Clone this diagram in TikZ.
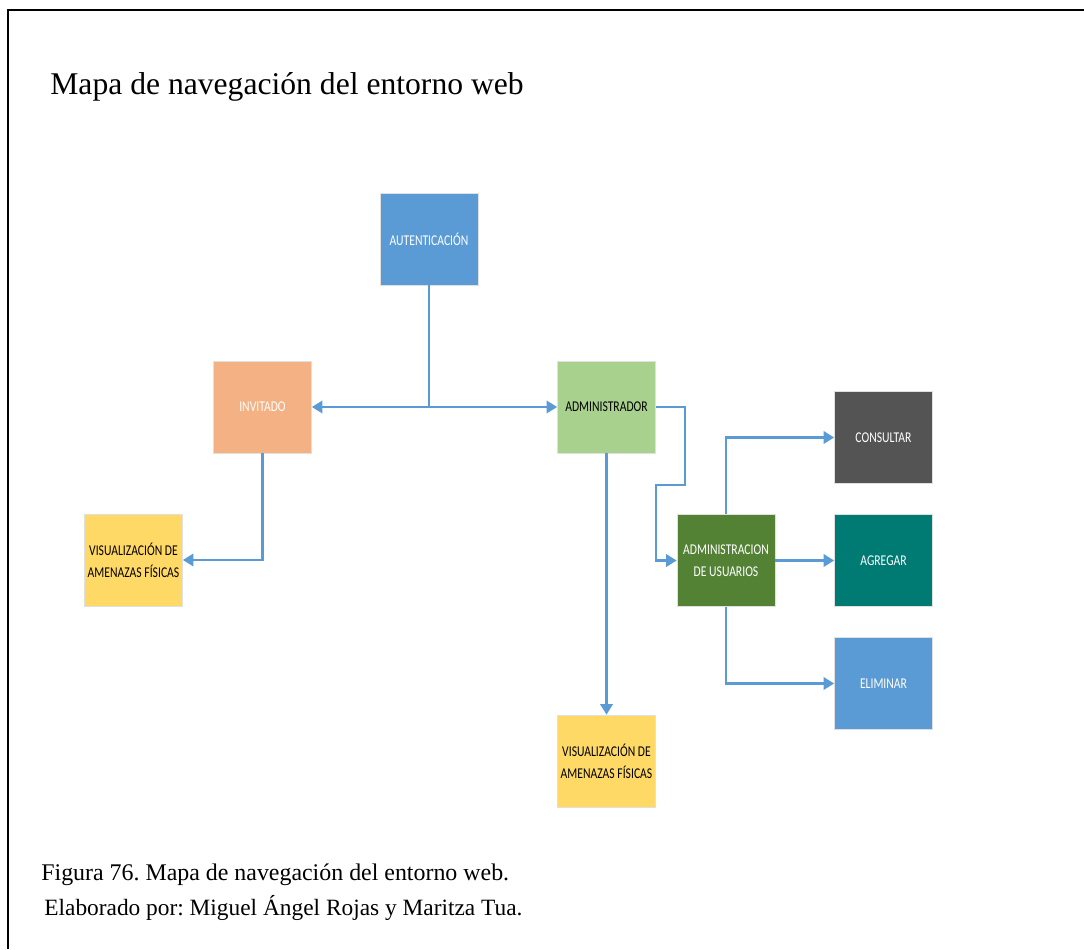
\documentclass[tikz,border=0pt]{standalone}
\usepackage{fontspec}
\setmainfont{Liberation Serif}
\newfontfamily\boxfont[FakeStretch=0.78]{Carlito}
\usepackage{xcolor}
\usetikzlibrary{arrows.meta}
\definecolor{lineblue}{HTML}{5B9BD5}
\definecolor{authblue}{HTML}{5B9BD5}
\definecolor{guestorange}{HTML}{F4B183}
\definecolor{admingreen}{HTML}{A9D18E}
\definecolor{viewyellow}{HTML}{FFD966}
\definecolor{usersgreen}{HTML}{548235}
\definecolor{querygray}{HTML}{545454}
\definecolor{addteal}{HTML}{007B74}
\tikzstyle{none}=[inner sep=0pt]
\tikzstyle{box}=[draw=black!12, line width=0.4pt, minimum width=1.96cm, minimum height=1.84cm, inner sep=1pt, align=center, font=\boxfont\fontsize{8.5}{12.5}\selectfont]
\tikzstyle{simple}=[-, draw=lineblue, line width=1.4pt]
\tikzstyle{arrow}=[simple, -{Triangle[length=6pt,width=7pt]}]

\begin{document}
\frenchspacing
\begin{tikzpicture}[x=0.02cm, y=-0.02cm]
  \useasboundingbox (0,0) rectangle (1084,949);
  \draw [line width=1.7pt] (8,949) -- (8,10) -- (1084,10);
  \node [style=none, anchor=base west, font=\fontsize{18}{22}\selectfont] (t) at (50,95) {Mapa de navegación del entorno web};
  \node [style=none, anchor=base west, font=\fontsize{13.6}{17}\selectfont] (c1) at (41,880) {Figura 76. Mapa de navegación del entorno web.};
  \node [style=none, anchor=base west, font=\fontsize{13.3}{17}\selectfont] (c2) at (44,915) {Elaborado por: Miguel Ángel Rojas y Maritza Tua.};
  \node [style=box, fill=authblue, text=white] (0) at (429,239) {AUTENTICACIÓN};
  \node [style=box, fill=guestorange, text=white] (1) at (262.5,407) {INVITADO};
  \node [style=box, fill=admingreen, text=black] (2) at (606.5,407) {ADMINISTRADOR};
  \node [style=box, fill=viewyellow, text=black] (3) at (133.5,560) {VISUALIZACIÓN DE\\AMENAZAS FÍSICAS};
  \node [style=box, fill=usersgreen, text=white] (4) at (726,560.5) {ADMINISTRACION\\DE USUARIOS};
  \node [style=box, fill=querygray, text=white] (5) at (883.5,437.5) {CONSULTAR};
  \node [style=box, fill=addteal, text=white] (6) at (883.5,560.5) {AGREGAR};
  \node [style=box, fill=authblue, text=white] (7) at (883.5,683.5) {ELIMINAR};
  \node [style=box, fill=viewyellow, text=black] (8) at (606.5,761) {VISUALIZACIÓN DE\\AMENAZAS FÍSICAS};
  \node [style=none] (9) at (429,407) {};
  \node [style=none] (10) at (262.5,560) {};
  \node [style=none] (11) at (685,407) {};
  \node [style=none] (12) at (685,485) {};
  \node [style=none] (13) at (656,485) {};
  \node [style=none] (14) at (656,560.5) {};
  \node [style=none] (15) at (726,437.5) {};
  \node [style=none] (16) at (726,683.5) {};
  \draw [style=simple] (0.south) to (9.center);
  \draw [style=arrow] (9.center) to (1.east);
  \draw [style=arrow] (9.center) to (2.west);
  \draw [style=arrow] (1.south) to (10.center) to (3.east);
  \draw [style=arrow] (2.east) to (11.center) to (12.center) to (13.center) to (14.center) to (4.west);
  \draw [style=arrow] (2.south) to (8.north);
  \draw [style=arrow] (4.north) to (15.center) to (5.west);
  \draw [style=arrow] (4.east) to (6.west);
  \draw [style=arrow] (4.south) to (16.center) to (7.west);
\end{tikzpicture}
\end{document}
